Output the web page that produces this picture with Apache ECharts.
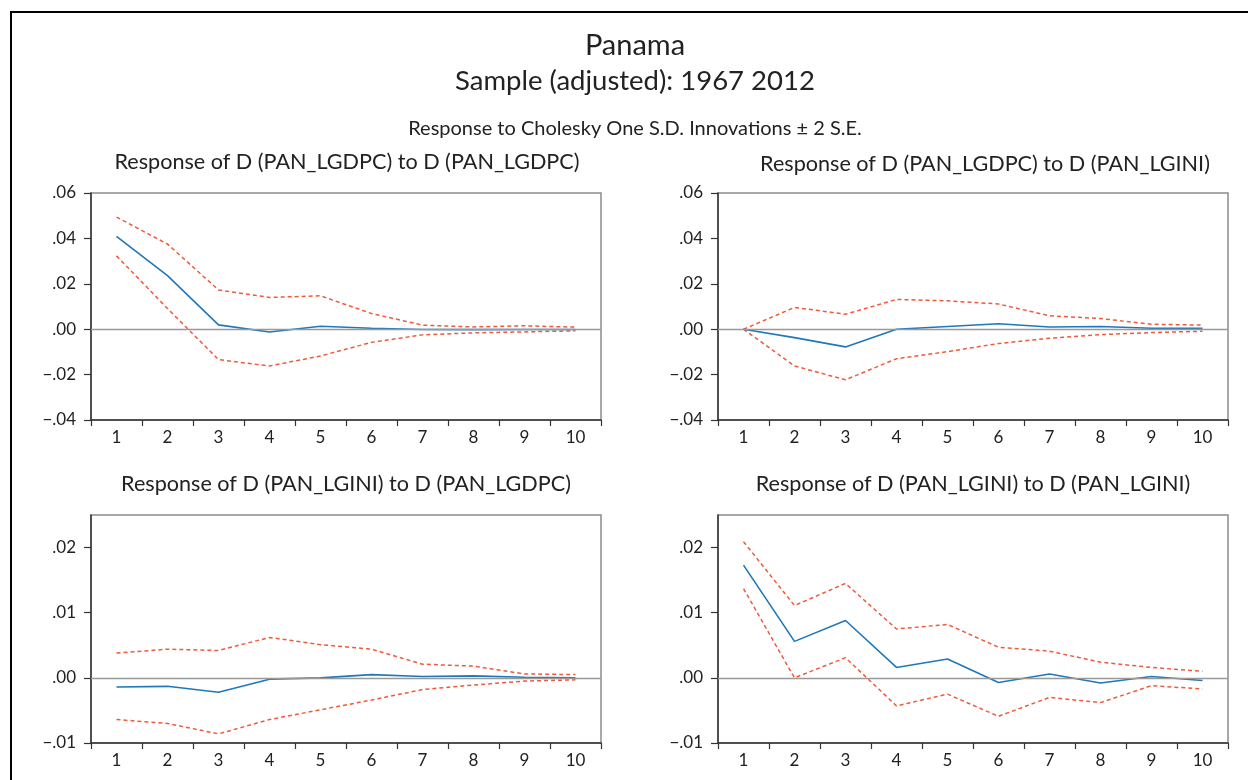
<!DOCTYPE html>
<html>
<head>
<meta charset="utf-8">
<title>Panama impulse responses</title>
<script src="https://cdn.jsdelivr.net/npm/echarts@6/dist/echarts.min.js"></script>
<style>
  html, body { margin: 0; padding: 0; background: #ffffff; }
  #chart { width: 1248px; height: 780px; }
</style>
</head>
<body>
<div id="chart"></div>
<script>
// Forecast horizons (periods after the shock)
const periods = ['1', '2', '3', '4', '5', '6', '7', '8', '9', '10'];

// Response of D(PAN_LGDPC) to D(PAN_LGDPC)
const gdpToGdp      = [0.0409, 0.0236, 0.0019, -0.0012, 0.0013, 0.0004, -0.0001, -0.0002, -0.0001, -0.0001];
const gdpToGdpUpper = [0.0494, 0.0375, 0.0173, 0.0140, 0.0147, 0.0069, 0.0018, 0.0010, 0.0015, 0.0009];
const gdpToGdpLower = [0.0323, 0.0091, -0.0134, -0.0162, -0.0118, -0.0058, -0.0025, -0.0016, -0.0012, -0.0007];

// Response of D(PAN_LGDPC) to D(PAN_LGINI)
const gdpToGini      = [0.0000, -0.0037, -0.0078, 0.0000, 0.0012, 0.0024, 0.0010, 0.0012, 0.0004, 0.0004];
const gdpToGiniUpper = [0.0000, 0.0096, 0.0066, 0.0131, 0.0125, 0.0111, 0.0059, 0.0047, 0.0022, 0.0018];
const gdpToGiniLower = [0.0000, -0.0162, -0.0223, -0.0130, -0.0099, -0.0063, -0.0040, -0.0024, -0.0015, -0.0009];

// Response of D(PAN_LGINI) to D(PAN_LGDPC)
const giniToGdp      = [-0.0014, -0.0013, -0.0022, -0.0002, 0.0000, 0.0005, 0.0002, 0.0003, 0.0001, 0.0000];
const giniToGdpUpper = [0.0038, 0.0044, 0.0042, 0.0062, 0.0051, 0.0044, 0.0021, 0.0018, 0.0006, 0.0005];
const giniToGdpLower = [-0.0064, -0.0070, -0.0086, -0.0064, -0.0049, -0.0034, -0.0018, -0.0011, -0.0005, -0.0003];

// Response of D(PAN_LGINI) to D(PAN_LGINI)
const giniToGini      = [0.0173, 0.0056, 0.0088, 0.0016, 0.0029, -0.0007, 0.0006, -0.0008, 0.0002, -0.0004];
const giniToGiniUpper = [0.0209, 0.0111, 0.0145, 0.0075, 0.0082, 0.0047, 0.0041, 0.0024, 0.0016, 0.0010];
const giniToGiniLower = [0.0137, 0.0000, 0.0031, -0.0043, -0.0025, -0.0059, -0.0030, -0.0038, -0.0012, -0.0017];

// Axis tick values
const ticksGdp  = [-0.04, -0.02, 0.00, 0.02, 0.04, 0.06];
const ticksGini = [-0.01, 0.00, 0.01, 0.02];

const FONT = 'Lato, "Open Sans", sans-serif';
const TEXT = '#222222';
const AXIS = '#333333';
const FRAME = '#8c8c8c';
const BLUE = '#1f78b8';
const RED = '#f05a3a';

// ".04" / "−.02" style labels
function fmt(v) {
  const r = Math.round(v * 1000) / 1000;
  const s = Math.abs(r).toFixed(2).replace(/^0/, '');
  return (r < 0 ? '\u2212' : '') + s;
}

const panels = [
  { grid: { left: 91,  top: 193, width: 510, height: 227 }, min: -0.04, max: 0.06,  ticks: ticksGdp,
    mid: gdpToGdp, up: gdpToGdpUpper, lo: gdpToGdpLower },
  { grid: { left: 718, top: 193, width: 510, height: 227 }, min: -0.04, max: 0.06,  ticks: ticksGdp,
    mid: gdpToGini, up: gdpToGiniUpper, lo: gdpToGiniLower },
  { grid: { left: 91,  top: 515, width: 510, height: 228 }, min: -0.01, max: 0.025, ticks: ticksGini,
    mid: giniToGdp, up: giniToGdpUpper, lo: giniToGdpLower },
  { grid: { left: 718, top: 515, width: 510, height: 228 }, min: -0.01, max: 0.025, ticks: ticksGini,
    mid: giniToGini, up: giniToGiniUpper, lo: giniToGiniLower }
];

const grids = [], xAxes = [], yAxes = [], series = [];
panels.forEach((p, i) => {
  grids.push(Object.assign({ show: true, borderColor: FRAME, borderWidth: 1.5, backgroundColor: 'transparent' }, p.grid));
  xAxes.push({
    type: 'category', gridIndex: i, data: periods, boundaryGap: true, position: 'bottom',
    axisLine: { show: true, onZero: false, lineStyle: { color: AXIS, width: 1.5 } },
    axisTick: { show: true, inside: false, length: 6, alignWithLabel: false, lineStyle: { color: AXIS, width: 1.2 } },
    axisLabel: { color: TEXT, fontFamily: FONT, fontSize: 17, margin: 9 },
    splitLine: { show: false }
  });
  yAxes.push({
    type: 'value', gridIndex: i, min: p.min, max: p.max,
    axisLine: { show: true, onZero: false, lineStyle: { color: AXIS, width: 1.5 } },
    axisTick: { show: true, length: 7, customValues: p.ticks, lineStyle: { color: AXIS, width: 1.2 } },
    axisLabel: { color: TEXT, fontFamily: FONT, fontSize: 17, margin: 15, customValues: p.ticks, formatter: fmt },
    splitLine: { show: false }
  });
  series.push({
    type: 'line', xAxisIndex: i, yAxisIndex: i, data: p.up, symbol: 'none', silent: true,
    lineStyle: { color: RED, width: 1.5, type: [4, 3] },
    markLine: {
      silent: true, symbol: 'none', label: { show: false },
      lineStyle: { color: '#999999', type: 'solid', width: 1.3 },
      data: [{ yAxis: 0 }]
    }
  });
  series.push({
    type: 'line', xAxisIndex: i, yAxisIndex: i, data: p.lo, symbol: 'none', silent: true,
    lineStyle: { color: RED, width: 1.5, type: [4, 3] }
  });
  series.push({
    type: 'line', xAxisIndex: i, yAxisIndex: i, data: p.mid, symbol: 'none', silent: true, z: 3,
    lineStyle: { color: BLUE, width: 1.6 }
  });
});

function label(text, x, y, size) {
  return {
    type: 'text', x: x, y: y, silent: true,
    style: { text: text, font: size + 'px ' + FONT, fill: TEXT, textAlign: 'center', textVerticalAlign: 'middle' }
  };
}

const chart = echarts.init(document.getElementById('chart'), null, { renderer: 'canvas' });
chart.setOption({
  backgroundColor: '#ffffff',
  animation: false,
  grid: grids,
  xAxis: xAxes,
  yAxis: yAxes,
  series: series,
  graphic: [
    { type: 'rect', silent: true, shape: { x: 11, y: 12, width: 1400, height: 1000 },
      style: { fill: 'none', stroke: '#000000', lineWidth: 2 } },
    label('Panama', 635, 46, 29),
    label('Sample (adjusted): 1967 2012', 635, 81, 27.5),
    label('Response to Cholesky One S.D. Innovations \u00b1 2 S.E.', 635, 129, 20),
    label('Response of D (PAN_LGDPC) to D (PAN_LGDPC)', 347, 162, 21.6),
    label('Response of D (PAN_LGDPC) to D (PAN_LGINI)', 985, 164, 21.6),
    label('Response of D (PAN_LGINI) to D (PAN_LGDPC)', 346, 484, 21.6),
    label('Response of D (PAN_LGINI) to D (PAN_LGINI)', 973, 484, 21.6)
  ]
});
</script>
</body>
</html>
